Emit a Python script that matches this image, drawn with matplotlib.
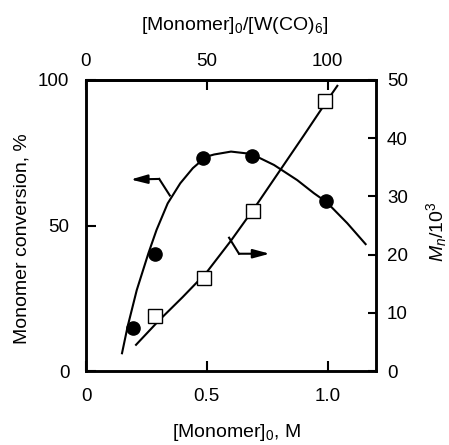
import matplotlib
matplotlib.use("Agg")
import matplotlib.pyplot as plt

plt.rcParams['font.family'] = ['Liberation Sans', 'DejaVu Sans']
plt.rcParams['mathtext.fontset'] = 'custom'
plt.rcParams['mathtext.rm'] = 'Liberation Sans'
plt.rcParams['mathtext.it'] = 'Liberation Sans:italic'

# measured points
conc_conv = [0.193, 0.284, 0.484, 0.687, 0.994]
conversion = [14.9, 40.2, 73.1, 74.0, 58.4]
conc_mn = [0.286, 0.489, 0.690, 0.990]
mn = [9.4, 15.9, 27.5, 46.4]

# hand-drawn guide curves
conv_curve_x = [0.149, 0.172, 0.210, 0.258, 0.292, 0.338, 0.390, 0.442, 0.496,
                0.53, 0.60, 0.684, 0.778, 0.874, 0.943, 0.996, 1.081, 1.157]
conv_curve_y = [6.1, 15.2, 27.8, 40.4, 48.5, 57.6, 64.5, 69.7, 73.6,
                74.4, 75.4, 74.6, 70.8, 65.6, 61.1, 58.0, 50.8, 43.6]
mn_curve_x = [0.207, 0.30, 0.40, 0.50, 0.60, 0.70, 0.80, 0.90, 1.00, 1.04]
mn_curve_y = [4.5, 8.6, 12.7, 17.0, 22.4, 28.2, 34.3, 40.4, 46.6, 49.0]

fs = 13.5
lfs = 14
lw = 1.5

fig = plt.figure(figsize=(4.49, 4.45), dpi=100)
ax = fig.add_axes([86 / 449, 74 / 445, 290 / 449, 291 / 445])
ax2 = ax.twinx()

ax.plot(conv_curve_x, conv_curve_y, color='black', lw=lw, zorder=2)
ax.plot(conc_conv, conversion, 'o', color='black', ms=9.5, zorder=3)
ax2.plot(mn_curve_x, mn_curve_y, color='black', lw=lw, zorder=2)
ax2.plot(conc_mn, mn, 's', mfc='white', mec='black', mew=1.0, ms=10, zorder=3)

# arrows pointing at the axis each curve belongs to
def elbow_arrow(tail, elbow, tip):
    ax.plot([tail[0], elbow[0]], [tail[1], elbow[1]], color='black', lw=lw)
    ax.annotate('', xy=tip, xytext=elbow,
                arrowprops=dict(arrowstyle='-|>,head_length=1.0,head_width=0.27',
                                color='black', lw=lw, shrinkA=0, shrinkB=0))

elbow_arrow((0.347, 60.3), (0.303, 66.0), (0.185, 65.8))
elbow_arrow((0.592, 45.8), (0.633, 40.3), (0.76, 40.3))

ax.set_xlim(0, 1.2)
ax.set_ylim(0, 100)
ax2.set_ylim(0, 50)
ax.set_xticks([0, 0.5, 1.0])
ax.set_xticklabels(['0', '0.5', '1.0'])
ax.set_yticks([0, 50, 100])
ax2.set_yticks([0, 10, 20, 30, 40, 50])

top = ax.secondary_xaxis('top', functions=(lambda m: m * 100, lambda r: r / 100))
top.set_xticks([0, 50, 100])

ax.tick_params(axis='x', direction='in', length=7, width=1.5, pad=12, labelsize=fs)
ax.tick_params(axis='y', direction='in', length=7, width=1.5, pad=12, labelsize=fs)
ax2.tick_params(axis='y', direction='in', length=6, width=1.5, pad=8, labelsize=fs)
top.tick_params(axis='x', direction='in', length=7, width=1.5, pad=7, labelsize=fs)

for a in (ax, ax2):
    for s in a.spines.values():
        s.set_linewidth(1.8)
top.spines['top'].set_linewidth(1.8)

ax.set_xlabel('[Monomer]$_\\mathrm{0}$, M', fontsize=lfs, va='center')
ax.xaxis.set_label_coords(0.52, -0.213)
ax.set_ylabel('Monomer conversion, %', fontsize=lfs, va='center')
ax.yaxis.set_label_coords(-0.221, 0.455)
ax2.set_ylabel('$M_n$/10$^3$', fontsize=lfs, rotation=90, va='center')
ax2.yaxis.set_label_coords(1.21, 0.48)
top.set_xlabel('[Monomer]$_\\mathrm{0}$/[W(CO)$_\\mathrm{6}$]', fontsize=lfs, va='center')
top.xaxis.set_label_coords(0.514, 1.189, transform=ax.transAxes)

fig.savefig('out.png', dpi=100)
